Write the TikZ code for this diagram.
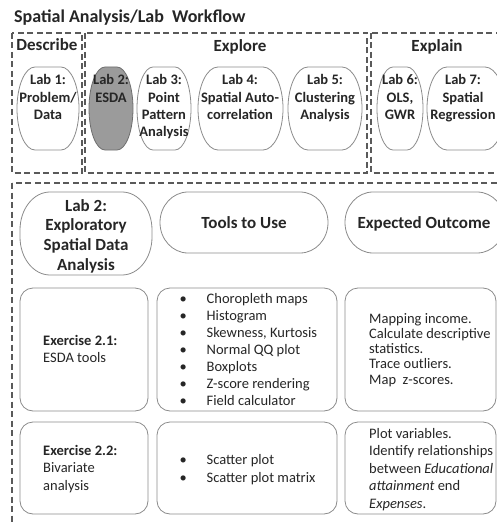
\documentclass[tikz,border=0pt]{standalone}
\usepackage{fontspec}
\setmainfont{Carlito}
\definecolor{ink}{HTML}{262626}
\definecolor{framec}{HTML}{5A5A5A}
\definecolor{edgec}{HTML}{8C8C8C}
\definecolor{hilite}{HTML}{9B9B9B}
\definecolor{hiliteedge}{HTML}{6E6E6E}
\newcommand\ebox[7][]{%
 \draw[#1] ({#2+#6},#3) -- ({#4-#6},#3)
  .. controls ({#4-0.4477*#6},#3) and (#4,{#3+0.4477*#7}) .. (#4,{#3+#7})
  -- (#4,{#5-#7})
  .. controls (#4,{#5-0.4477*#7}) and ({#4-0.4477*#6},#5) .. ({#4-#6},#5)
  -- ({#2+#6},#5)
  .. controls ({#2+0.4477*#6},#5) and (#2,{#5-0.4477*#7}) .. (#2,{#5-#7})
  -- (#2,{#3+#7})
  .. controls (#2,{#3+0.4477*#7}) and ({#2+0.4477*#6},#3) .. ({#2+#6},#3) -- cycle;}
\newcommand\ml[2][c]{\begin{tabular}[t]{@{}#1@{}}#2\end{tabular}}
\newcommand\bul{\makebox[27pt][l]{\textbullet}}
\begin{document}
\begin{tikzpicture}[x=1pt,y=-1pt,
  frame/.style={draw=framec,line width=1.3pt,dash pattern=on 6pt off 3.5pt},
  shapeline/.style={draw=edgec,line width=0.8pt},
  hiline/.style={draw=hiliteedge,fill=hilite,line width=0.8pt},
  txt/.style={inner sep=0pt,anchor=base,text=ink},
  ltxt/.style={inner sep=0pt,anchor=base west,text=ink},
  labfont/.style={font=\fontsize{14.5}{17.3}\selectfont\bfseries},
  headfont/.style={font=\fontsize{17}{19.7}\selectfont\bfseries},
  body/.style={font=\fontsize{14.5}{#1}\selectfont},
  body/.default=17.3]
\fill[white] (0,0) rectangle (497,524);
\useasboundingbox (0,0) rectangle (497,524);

% title
\node[ltxt,font=\fontsize{18}{21}\selectfont\bfseries] (title) at (14,23) {Spatial Analysis/Lab\ \ Workflow};

% top frames
\draw[frame] (12,33) rectangle (82,173);
\draw[frame] (85,33) rectangle (367,173);
\draw[frame] (371,33) rectangle (510,173);
\node[txt,headfont] (describe) at (47,51) {Describe};
\node[txt,headfont] (explore) at (240,52) {Explore};
\node[txt,headfont] (explain) at (437,52) {Explain};

% lab shapes
\ebox[shapeline]{17}{67}{79}{150}{18}{41.5}
\ebox[hiline]{89}{67}{133}{150}{16}{41.5}
\ebox[shapeline]{137}{67}{191}{150}{16}{41.5}
\ebox[shapeline]{198}{67}{283}{150}{20}{41.5}
\ebox[shapeline]{288}{67}{362}{150}{20}{41.5}
\ebox[shapeline]{377}{67}{423}{150}{16}{41.5}
\ebox[shapeline]{427}{67}{505}{150}{20}{41.5}
\node[txt,labfont] (lab1) at (48,85) {\ml{Lab 1:\\Problem/\\Data}};
\node[txt,labfont] (lab2) at (111,85) {\ml{Lab 2:\\ESDA}};
\node[txt,labfont] (lab3) at (164,85) {\ml{Lab 3:\\Point\\Pattern\\Analysis}};
\node[txt,labfont] (lab4) at (240,85) {\ml{Lab 4:\\Spatial Auto-\\correlation}};
\node[txt,labfont] (lab5) at (325,85) {\ml{Lab 5:\\Clustering\\Analysis}};
\node[txt,labfont] (lab6) at (400,85) {\ml{Lab 6:\\OLS,\\GWR}};
\node[txt,labfont] (lab7) at (463,85) {\ml{Lab 7:\\Spatial\\Regression}};

% lower frame
\draw[frame] (12,183) rectangle (510,540);

% header row
\ebox[shapeline]{20}{192}{152}{275}{30}{38}
\ebox[shapeline]{160}{192}{328}{253}{28}{30.5}
\ebox[shapeline]{345}{192}{505}{253}{28}{30.5}
\node[txt,headfont] (hlab) at (86,211) {\ml{Lab 2:\\Exploratory\\Spatial Data\\Analysis}};
\node[txt,headfont] (htools) at (244,228) {Tools to Use};
\node[txt,headfont] (hout) at (424,228) {Expected Outcome};

% row boxes
\draw[shapeline,rounded corners=13] (20,288) rectangle (148,411);
\draw[shapeline,rounded corners=13] (157,288) rectangle (337,411);
\draw[shapeline,rounded corners=13] (345,288) rectangle (496,411);
\draw[shapeline,rounded corners=13] (20,422) rectangle (148,514);
\draw[shapeline,rounded corners=13] (157,422) rectangle (337,514);
\draw[shapeline,rounded corners=13] (345,422) rectangle (496,514);

% exercise 2.1
\node[ltxt,body=17] (ex1) at (43,345) {\ml[l]{\textbf{Exercise 2.1:}\\ESDA tools}};
\node[ltxt,body=17.1] (tools1) at (179.5,303) {\ml[l]{\bul Choropleth maps\\\bul Histogram\\\bul Skewness, Kurtosis\\\bul Normal QQ plot\\\bul Boxplots\\\bul Z-score rendering\\\bul Field calculator}};
\node[ltxt,body=15.3] (out1) at (369,323) {\ml[l]{Mapping income.\\Calculate descriptive\\statistics.\\Trace outliers.\\Map\ \ z-scores.}};

% exercise 2.2
\node[ltxt,body=17.5] (ex2) at (43,455) {\ml[l]{\textbf{Exercise 2.2:}\\Bivariate\\analysis}};
\node[ltxt,body=18] (tools2) at (179.5,464) {\ml[l]{\bul Scatter plot\\\bul Scatter plot matrix}};
\node[ltxt,body=17.5] (out2) at (369,438) {\ml[l]{Plot variables.\\Identify relationships\\between \textit{Educational}\\\textit{attainment} end\\\textit{Expenses}.}};
\end{tikzpicture}
\end{document}
